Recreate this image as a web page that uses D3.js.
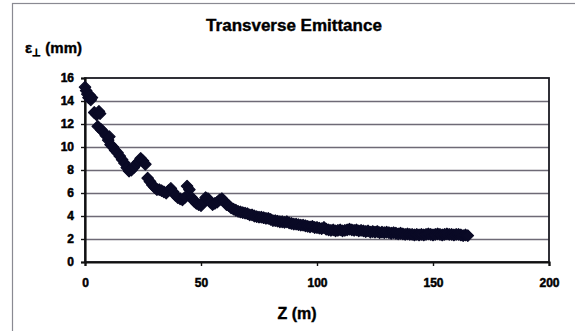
<!DOCTYPE html>
<html>
<head>
<meta charset="utf-8">
<script src="https://cdn.jsdelivr.net/npm/d3@7"></script>
<style>
  html, body { margin: 0; padding: 0; background: #fff; }
  svg { display: block; }
  text { font-family: "Liberation Sans", Arial, sans-serif; font-weight: bold; fill: #000; }
</style>
</head>
<body>
<svg id="chart" width="575" height="331"></svg>
<script>
// Beam position along the line (m)
const zPos = [
  0, 0.5, 1, 1.5, 2, 2.5, 3, 4, 5, 5.5, 6, 6.5, 7, 8, 9, 10, 10.5, 11, 12, 13,
  14, 15, 16, 17, 18, 19, 20, 21, 22, 23, 24, 25, 26, 27, 28, 29, 30, 31, 32, 33,
  34, 35, 36, 37, 38, 39, 40, 41, 42, 43, 44, 45, 46, 47, 48, 49, 50, 51, 52, 53,
  54, 55, 56, 57, 58, 59, 60, 61, 62, 63, 64, 65, 66, 67, 68, 69, 70, 71, 72, 73,
  74, 75, 76, 77, 78, 79, 80, 81, 82, 83, 84, 85, 86, 87, 88, 89, 90, 91, 92, 93,
  94, 95, 96, 97, 98, 99, 100, 101, 102, 103, 104, 105, 106, 107, 108, 109, 110, 111, 112, 113,
  114, 115, 116, 117, 118, 119, 120, 121, 122, 123, 124, 125, 126, 127, 128, 129, 130, 131, 132, 133,
  134, 135, 136, 137, 138, 139, 140, 141, 142, 143, 144, 145, 146, 147, 148, 149, 150, 151, 152, 153,
  154, 155, 156, 157, 158, 159, 160, 161, 162, 163, 164, 165
];

// Transverse emittance at each position (mm)
const emittance = [
  15.2, 14.9, 14.6, 14.3, 14.5, 14.1, 14.3, 13.0, 12.8, 11.8, 13.1, 12.9, 11.5, 11.3, 11.0, 10.6, 10.9, 10.2, 10.0, 9.7,
  9.5, 9.2, 8.9, 8.6, 8.2, 7.9, 8.0, 8.2, 8.5, 8.7, 9.0, 8.8, 8.5, 7.3, 7.0, 6.7, 6.5, 6.3, 6.3, 6.2,
  6.1, 6.0, 6.2, 6.4, 6.1, 5.8, 5.6, 5.5, 5.4, 5.6, 6.6, 6.3, 5.6, 5.3, 5.1, 5.0, 4.9, 5.2, 5.6, 5.5,
  5.2, 5.0, 5.1, 5.2, 5.4, 5.5, 5.3, 5.0, 4.9, 4.7, 4.6, 4.5, 4.4, 4.35, 4.3, 4.25, 4.2, 4.1, 4.1, 4.0,
  3.95, 3.9, 3.9, 3.85, 3.8, 3.8, 3.7, 3.6, 3.6, 3.55, 3.5, 3.5, 3.45, 3.5, 3.4, 3.35, 3.3, 3.3, 3.25, 3.2,
  3.2, 3.15, 3.1, 3.05, 3.1, 3.0, 3.0, 2.95, 2.9, 3.0, 2.85, 2.8, 2.75, 2.8, 2.7, 2.75, 2.8, 2.7, 2.75, 2.8,
  2.85, 2.8, 2.75, 2.8, 2.7, 2.75, 2.7, 2.65, 2.7, 2.6, 2.65, 2.6, 2.65, 2.55, 2.6, 2.55, 2.6, 2.55, 2.5, 2.55,
  2.5, 2.45, 2.5, 2.45, 2.4, 2.45, 2.4, 2.4, 2.35, 2.4, 2.35, 2.4, 2.35, 2.4, 2.45, 2.4, 2.35, 2.4, 2.45, 2.4,
  2.35, 2.4, 2.45, 2.4, 2.4, 2.35, 2.4, 2.4, 2.35, 2.3, 2.35, 2.3
];

const xTicks = [0, 50, 100, 150, 200];
const yTicks = [0, 2, 4, 6, 8, 10, 12, 14, 16];

const svg = d3.select("#chart");
const plot = { left: 85, right: 549, top: 78, bottom: 262 };

const x = d3.scaleLinear().domain([0, 200]).range([plot.left, plot.right]);
const y = d3.scaleLinear().domain([0, 16]).range([plot.bottom, plot.top]);

// Outer chart frame
svg.append("rect")
  .attr("x", 12.5).attr("y", 3.5)
  .attr("width", 600).attr("height", 400)
  .attr("fill", "none").attr("stroke", "#8a8a92").attr("stroke-width", 1.2);

// Horizontal gridlines
svg.append("g")
  .selectAll("line")
  .data(yTicks.filter(d => d > 0 && d < 16))
  .join("line")
  .attr("x1", plot.left).attr("x2", plot.right)
  .attr("y1", d => Math.round(y(d)) + 0.5).attr("y2", d => Math.round(y(d)) + 0.5)
  .attr("stroke", "#6e6a76").attr("stroke-width", 1.4);

// Plot area border
svg.append("rect")
  .attr("x", plot.left).attr("y", plot.top)
  .attr("width", plot.right - plot.left).attr("height", plot.bottom - plot.top)
  .attr("fill", "none").attr("stroke", "#1a1a22").attr("stroke-width", 1.8);

// Axes
const yAxis = svg.append("g")
  .attr("transform", `translate(${plot.left},0)`)
  .call(d3.axisLeft(y).tickValues(yTicks).tickSize(4).tickPadding(7).tickFormat(d3.format("d")));
const xAxis = svg.append("g")
  .attr("transform", `translate(0,${plot.bottom})`)
  .call(d3.axisBottom(x).tickValues(xTicks).tickSize(4).tickPadding(12).tickFormat(d3.format("d")));

[yAxis, xAxis].forEach(g => {
  g.select(".domain").attr("stroke", "#111").attr("stroke-width", 2.2);
  g.selectAll(".tick line").attr("stroke", "#111").attr("stroke-width", 1.4);
  g.selectAll(".tick text")
    .style("font-family", "'Liberation Sans', Arial, sans-serif")
    .style("font-weight", "bold").style("font-size", "12px")
    .attr("fill", "#000").attr("stroke", "#000").attr("stroke-width", 0.5);
});

// Data markers
const points = zPos.map((z, i) => ({ z, e: emittance[i] }));
svg.append("g")
  .selectAll("path")
  .data(points)
  .join("path")
  .attr("transform", d => `translate(${x(d.z)},${y(d.e)})`)
  .attr("d", d3.symbol().type(d3.symbolDiamond2).size(84))
  .attr("fill", "#0a0a26")
  .attr("stroke", "#0a0a26").attr("stroke-width", 1.2).attr("stroke-linejoin", "round");

// Titles
svg.append("text")
  .attr("x", 294).attr("y", 31)
  .attr("text-anchor", "middle")
  .style("font-size", "17px")
  .attr("stroke", "#000").attr("stroke-width", 0.4)
  .text("Transverse Emittance");

const yLabel = svg.append("text")
  .attr("x", 25).attr("y", 53)
  .style("font-size", "15px")
  .attr("stroke", "#000").attr("stroke-width", 0.4);
yLabel.append("tspan").text("ε");
yLabel.append("tspan").attr("dy", 3).style("font-size", "10px").text("⊥");
yLabel.append("tspan").attr("dy", -3).text(" (mm)");

svg.append("text")
  .attr("x", 297).attr("y", 319)
  .attr("text-anchor", "middle")
  .style("font-size", "16px")
  .attr("stroke", "#000").attr("stroke-width", 0.4)
  .text("Z (m)");
</script>
</body>
</html>
